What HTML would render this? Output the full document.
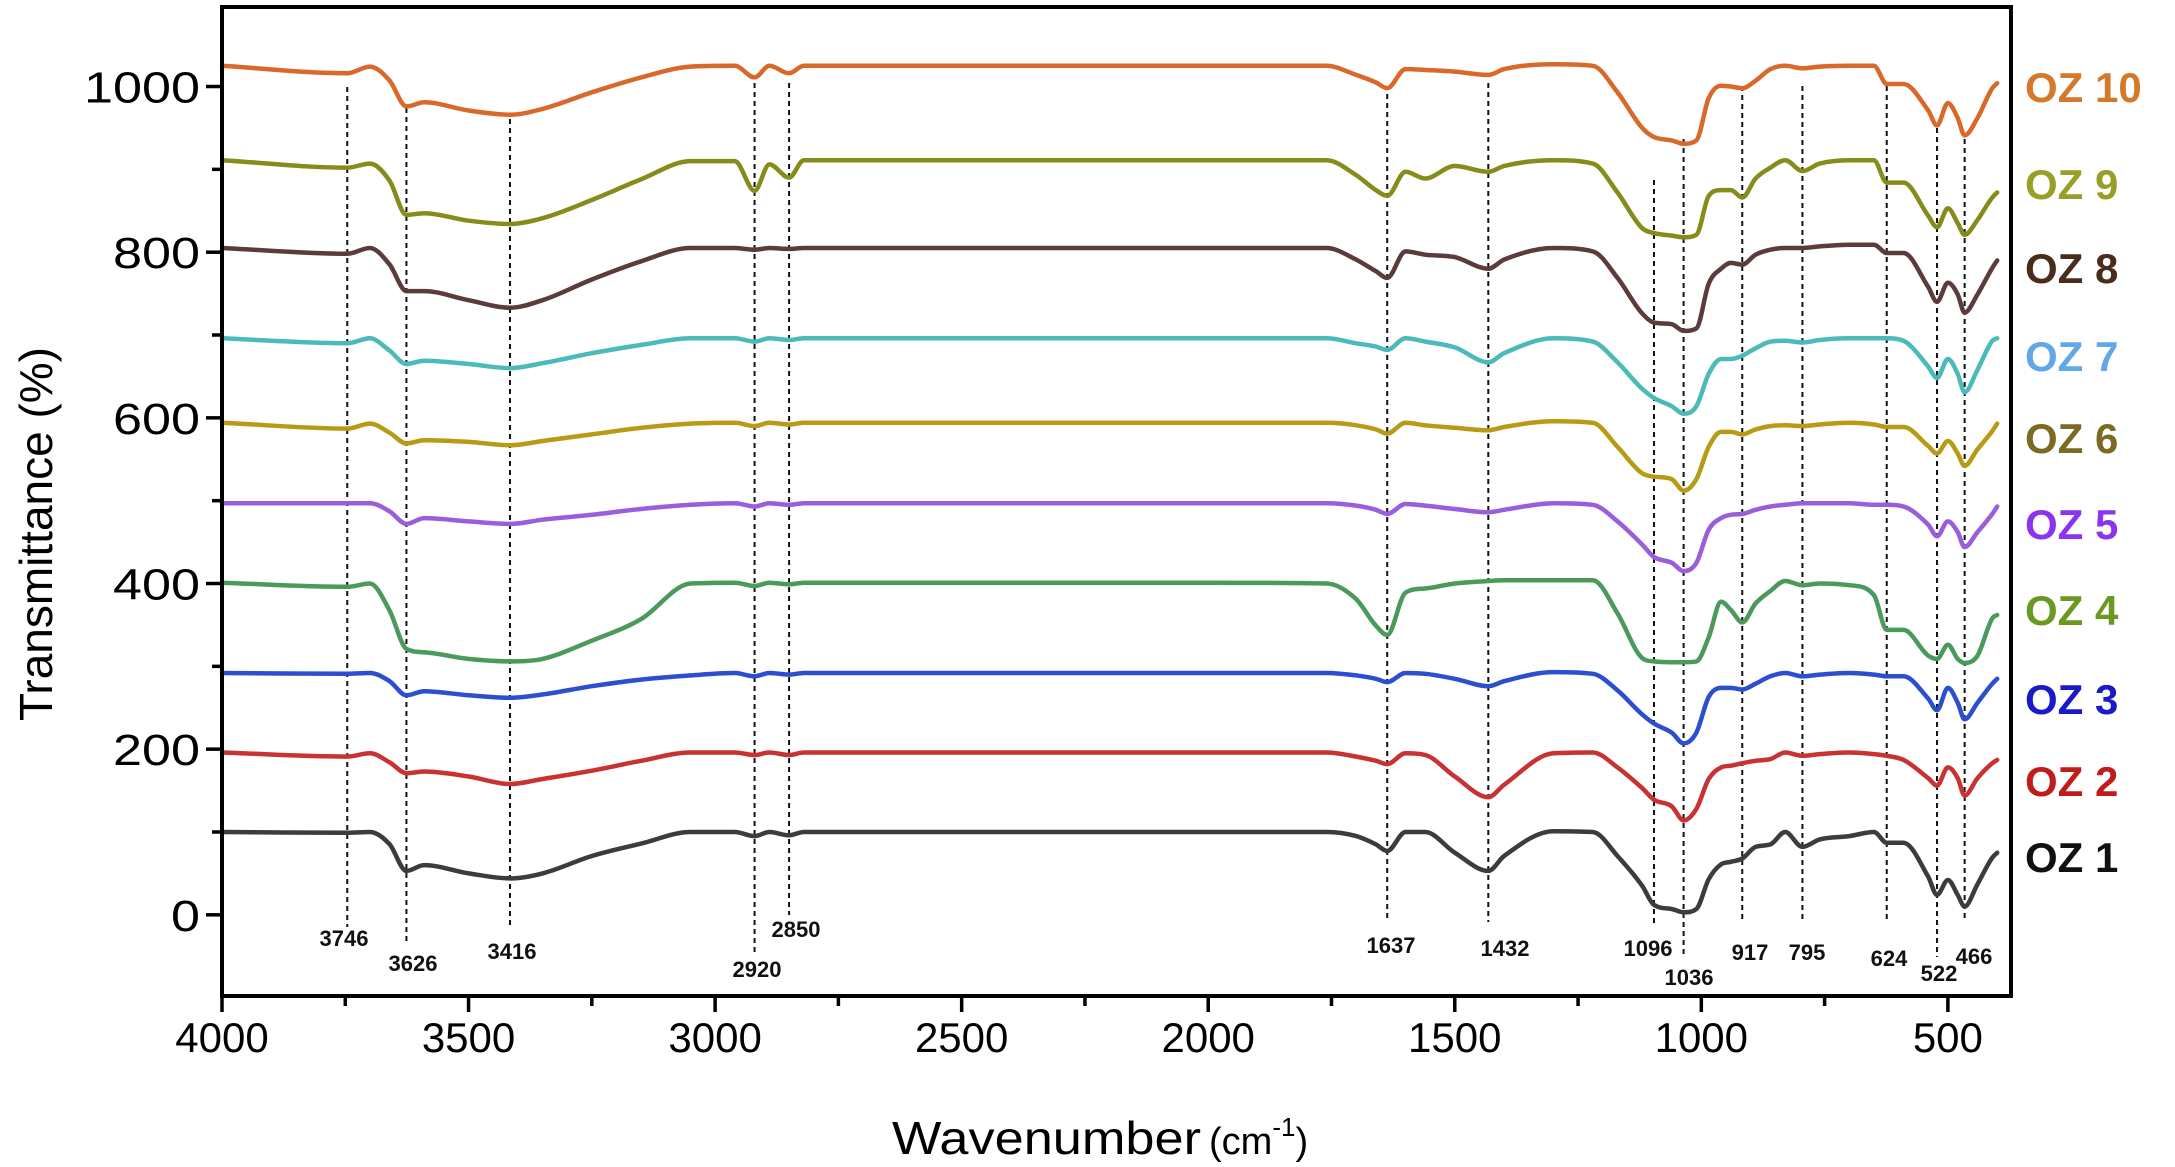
<!DOCTYPE html>
<html><head><meta charset="utf-8"><style>
html,body{margin:0;padding:0;background:#fff;}
svg{display:block;}
text{font-family:"Liberation Sans",sans-serif;}
</style></head><body>
<svg id="chart" width="2175" height="1167" viewBox="0 0 2175 1167" xmlns="http://www.w3.org/2000/svg">
<g id="peaks"></g>
<g id="series"></g>
<g id="axes"></g>
<g id="legend"></g>
<text x="0" y="0" transform="translate(52,534) rotate(-90)" text-anchor="middle" font-size="46" textLength="374" lengthAdjust="spacingAndGlyphs">Transmittance (%)</text>
<text x="892" y="1154" font-size="46"><tspan textLength="309" lengthAdjust="spacingAndGlyphs">Wavenumber</tspan><tspan font-size="38" dx="8">(cm</tspan><tspan font-size="26" dy="-18">-1</tspan><tspan font-size="38" dy="18">)</tspan></text>
</svg>
<script>
const wavenumbers = [4000,3746,3700,3660,3626,3590,3500,3416,3350,3250,3150,3050,2960,2920,2890,2850,2820,2000,1760,1700,1660,1637,1600,1560,1500,1432,1400,1300,1220,1170,1120,1096,1060,1036,1010,985,960,940,917,890,860,830,795,760,700,650,624,590,540,522,500,480,466,440,410,400];
const oz1 = [100,99,100,85,53,60,50,44,50,71,86,100,100,95,100,96,100,100,100,95,85,77,100,100,75,53,71,101,100,71,35,12,7,3,7,43,61,64,68,82,85,100,82,91,95,100,87,87,46,24,42,24,10,37,69,75];
const oz2 = [100,95,99,88,75,77,71,62,68,78,90,100,100,97,100,97,100,100,100,95,90,86,99,97,71,46,61,99,100,82,57,43,35,18,32,68,82,84,87,90,92,100,96,98,100,98,96,91,69,60,82,69,48,69,87,91];
const oz3 = [100,99,100,90,73,78,73,70,74,84,92,97,100,96,100,98,100,100,100,97,93,89,100,99,93,84,90,101,99,79,50,39,28,15,28,71,82,82,80,87,96,100,96,98,100,98,96,96,69,55,82,64,44,64,87,93];
const oz4 = [100,95,99,66,20,16,8,5,8,30,56,99,100,96,100,98,100,100,99,80,48,37,88,93,99,102,103,103,103,63,9,5,4,4,5,34,77,67,52,75,90,102,97,99,97,85,43,43,12,8,25,8,3,12,57,61];
const oz5 = [100,100,100,90,75,82,78,75,80,86,93,98,100,96,100,98,100,100,100,97,92,87,99,97,93,89,92,100,98,78,50,35,28,18,28,68,82,86,87,92,96,98,100,100,100,98,98,96,74,60,78,65,47,65,87,96];
const oz6 = [100,93,99,88,75,79,77,73,78,86,94,99,100,96,100,98,100,100,100,97,92,87,100,97,94,91,95,102,100,71,39,35,32,18,32,71,89,89,86,92,96,97,96,98,100,98,95,95,72,63,78,63,48,68,90,99];
const oz7 = [100,94,100,85,69,73,69,64,70,82,92,100,100,96,100,98,100,100,100,94,90,86,100,96,89,71,82,100,96,71,39,28,18,9,18,57,75,75,79,88,96,97,95,98,100,100,100,97,66,52,75,57,35,62,97,100];
const oz8 = [100,93,100,80,48,48,37,28,37,62,84,100,100,98,100,99,100,100,100,86,72,64,96,92,89,75,86,100,96,64,21,10,8,0,3,57,75,82,80,92,98,100,100,102,104,104,94,94,53,35,58,44,22,44,76,85];
const oz9 = [100,91,96,75,34,36,27,23,30,52,77,99,99,63,95,79,100,100,100,82,64,57,86,78,93,86,93,100,96,61,18,12,9,7,10,57,64,64,55,78,91,100,87,96,100,100,73,73,33,19,42,24,10,28,55,61];
const oz10 = [100,91,99,82,51,56,46,41,48,68,86,99,100,86,100,91,100,100,100,89,80,73,96,95,93,89,96,102,100,68,25,14,10,6,10,61,76,75,73,82,96,100,97,99,100,100,78,78,46,28,55,37,16,37,73,79];
const seriesNames = ["OZ 1","OZ 2","OZ 3","OZ 4","OZ 5","OZ 6","OZ 7","OZ 8","OZ 9","OZ 10"];
const offsets = [0,96,192,301,397,494,596,705,811,925];
const yTicks = [0,200,400,600,800,1000];
const xTicks = [4000,3500,3000,2500,2000,1500,1000,500];
const peakValues = [3746,3626,3416,2920,2850,1637,1432,1096,1036,917,795,624,522,466];

const allSeries = [oz1,oz2,oz3,oz4,oz5,oz6,oz7,oz8,oz9,oz10];
const lineColors = ["#3c3c3c","#c83232","#2c4fd0","#4b9a5c","#9a5ddc","#b89b14","#4bbab8","#5b3b3c","#858c1a","#d8692a"];
const legendColors = ["#111111","#c01c1c","#1a1ac8","#6a9820","#8a34ee","#7c6a22","#62a8e6","#4a2c1c","#96a028","#d4782a"];
const L=222,R=2011,T=7,B=996;
const X0=4000,X1=372,Y0=-98,Y1=1096;
const xs = w => L + (X0 - w) / (X0 - X1) * (R - L);
const ys = v => B - (v - Y0) / (Y1 - Y0) * (B - T);
const NS="http://www.w3.org/2000/svg";
function mk(tag, attrs, parent){const e=document.createElementNS(NS,tag);for(const k in attrs)e.setAttribute(k,attrs[k]);parent.appendChild(e);return e;}

function monoPath(px, py){
  const n=px.length, d=[], m=[];
  for(let i=0;i<n-1;i++) d.push((py[i+1]-py[i])/(px[i+1]-px[i]));
  m.push(d[0]);
  for(let i=1;i<n-1;i++){ m.push(d[i-1]*d[i]<=0?0:(d[i-1]+d[i])/2); }
  m.push(d[n-2]);
  for(let i=0;i<n-1;i++){ if(d[i]===0){m[i]=0;m[i+1]=0;continue;}
    const a=m[i]/d[i], b=m[i+1]/d[i], s=a*a+b*b;
    if(s>9){const t=3/Math.sqrt(s);m[i]=t*a*d[i];m[i+1]=t*b*d[i];} }
  let p="M"+px[0].toFixed(1)+","+py[0].toFixed(1);
  for(let i=0;i<n-1;i++){const h=(px[i+1]-px[i])/3;
    p+="C"+(px[i]+h).toFixed(1)+","+(py[i]+m[i]*h).toFixed(1)+" "+(px[i+1]-h).toFixed(1)+","+(py[i+1]-m[i+1]*h).toFixed(1)+" "+px[i+1].toFixed(1)+","+py[i+1].toFixed(1);}
  return p;
}

const peakTop=[87,108,119,83,83,94,83,180,139,86,86,86,128,139];
const peakBot=[927,943,927,954,915,918,922,927,957,922,922,922,957,922];
const peakLab=[[344,946],[413,971],[512,959],[757,977],[796,937],[1391,953],[1505,956],[1648,956],[1689,985],[1750,960],[1807,960],[1889,966],[1939,981],[1974,964]];
const pg=document.getElementById('peaks');
peakValues.forEach((w,i)=>{
  const ln=mk('line',{x1:xs(w),x2:xs(w),y1:peakTop[i],y2:peakBot[i],stroke:'#111','stroke-width':2,'stroke-dasharray':'5,4'},pg);
  
  
  const t=mk('text',{x:peakLab[i][0],y:peakLab[i][1],'text-anchor':'middle','font-size':22,'font-weight':'bold',fill:'#111'},pg);
  t.textContent=String(w);
  
  
});

const sg=document.getElementById('series');
allSeries.forEach((vals,k)=>{
  const px=wavenumbers.map(xs), py=vals.map(v=>ys(v+offsets[k]));
  const p=mk('path',{d:monoPath(px,py),fill:'none',stroke:lineColors[k],'stroke-width':4.5,'stroke-linejoin':'round','stroke-linecap':'round'},sg);
  
  
});

const ag=document.getElementById('axes');
const fr=mk('rect',{x:L,y:T,width:R-L,height:B-T,fill:'none',stroke:'#000','stroke-width':4},ag);


for(let v=0;v<=1000;v+=100){
  const major=v%200===0;
  const tk=mk('line',{x1:L,x2:L-(major?16:10),y1:ys(v),y2:ys(v),stroke:'#000','stroke-width':3.5},ag);
  
  
}
yTicks.forEach(v=>{
  const s=String(v);
  const t=mk('text',{x:200,y:ys(v)+16,'text-anchor':'end','font-size':44,textLength:s.length*29,lengthAdjust:'spacingAndGlyphs'},ag);
  t.textContent=s;
  
  
});
for(let w=4000;w>=500;w-=250){
  const major=w%500===0;
  const tk=mk('line',{x1:xs(w),x2:xs(w),y1:B,y2:B+(major?16:10),stroke:'#000','stroke-width':3.5},ag);
  
  
}
xTicks.forEach(w=>{
  const t=mk('text',{x:xs(w),y:1052,'text-anchor':'middle','font-size':42},ag);
  t.textContent=String(w);
  
  
});

const lg=document.getElementById('legend');
const legY=[857,781,699,610,524,438,356,268,184,87];
seriesNames.forEach((n,k)=>{
  const t=mk('text',{x:2025,y:legY[k]+15,'font-size':42,'font-weight':'bold',fill:legendColors[k]},lg);
  t.textContent=n;
  
  
});
</script>
</body></html>
